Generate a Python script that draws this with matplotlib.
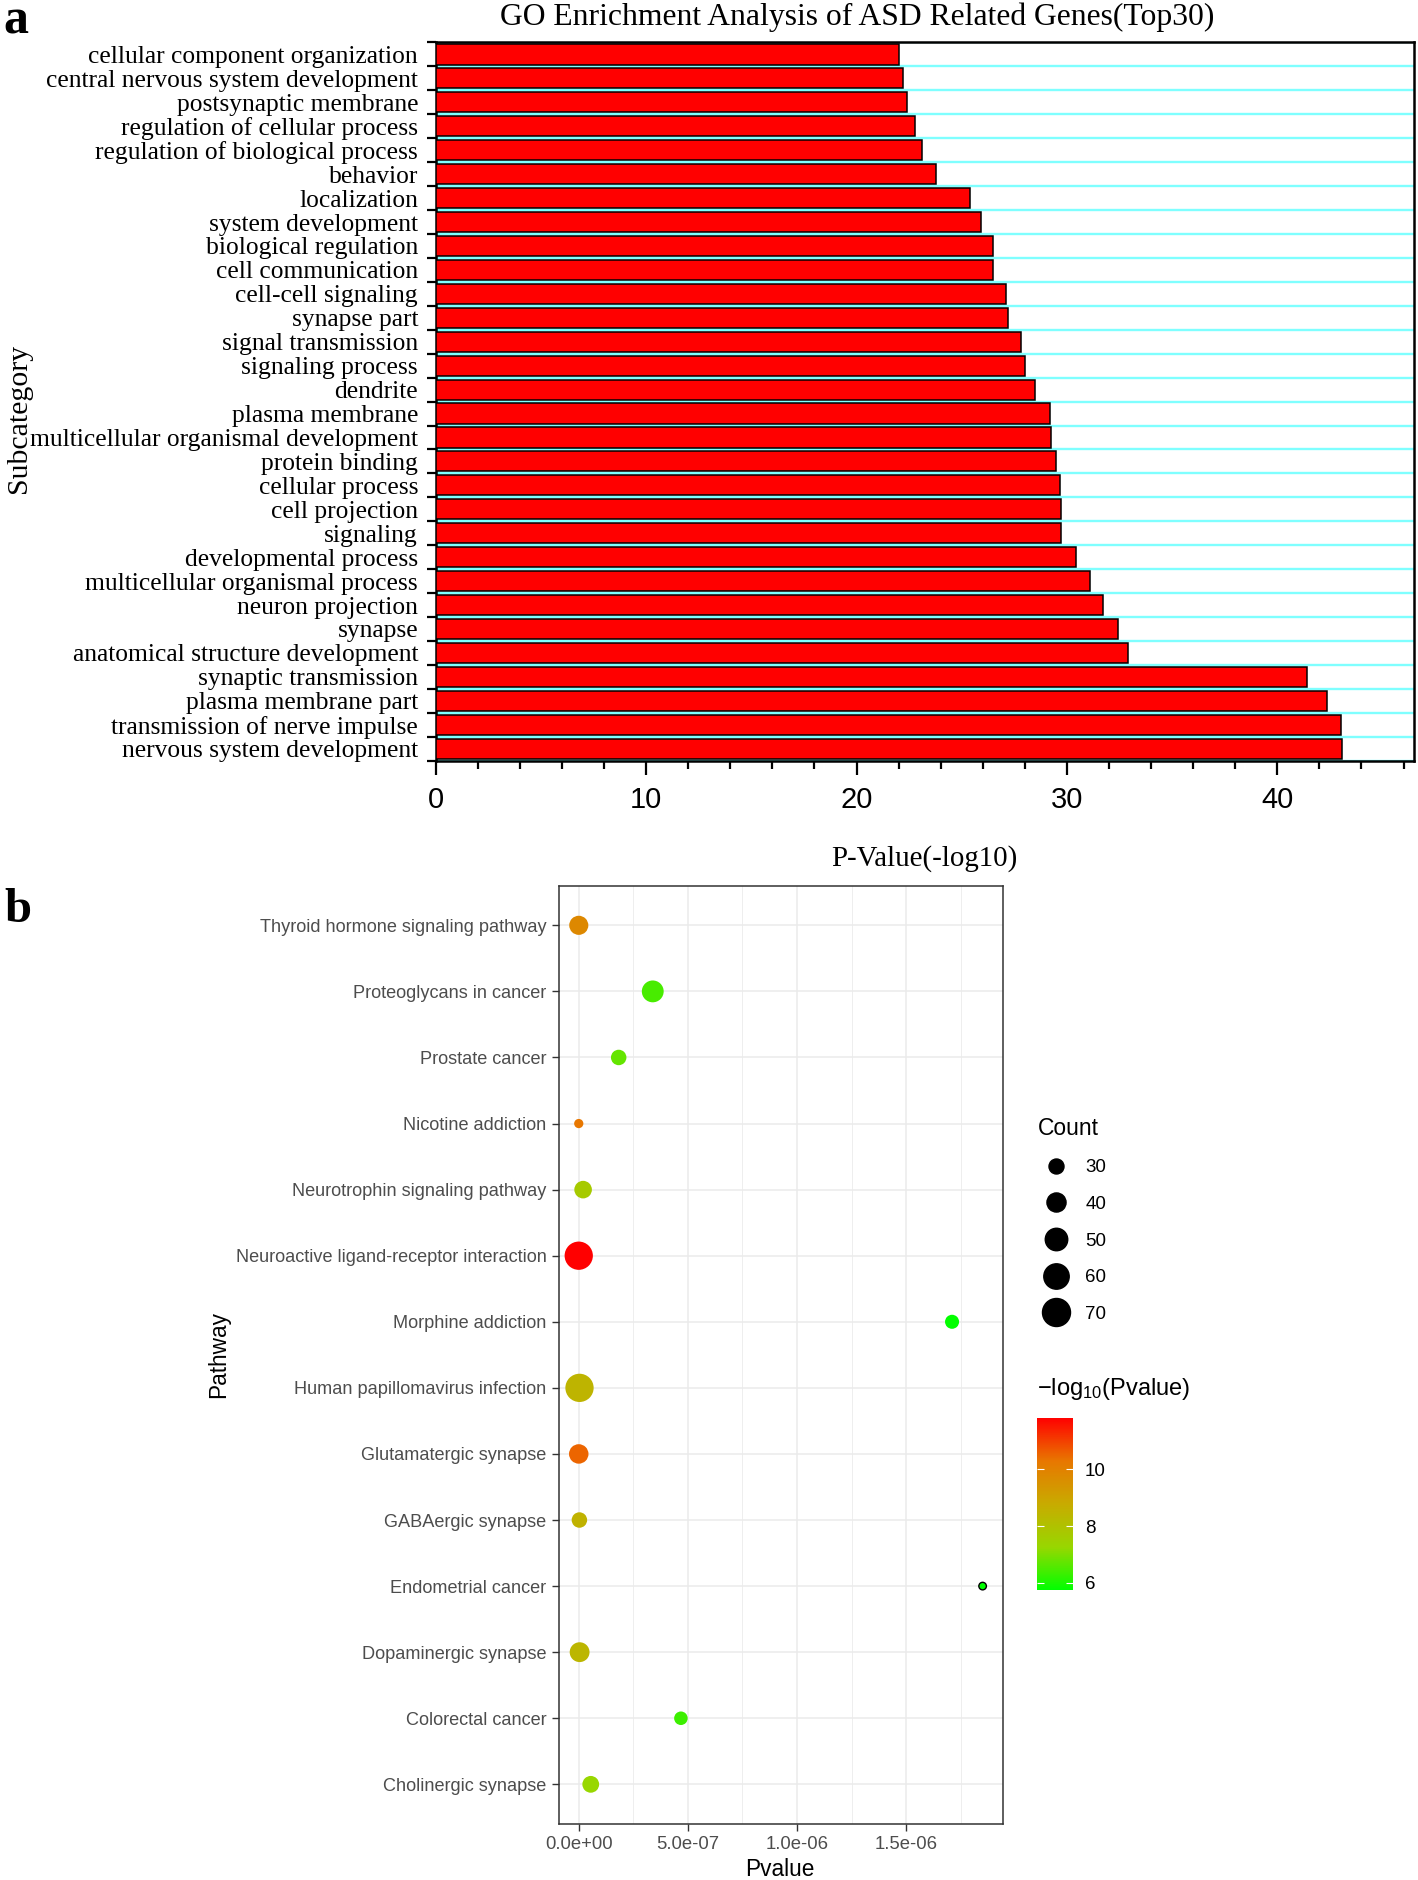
import numpy as np
import matplotlib
matplotlib.use("Agg")
import matplotlib.pyplot as plt
from matplotlib.colors import LinearSegmentedColormap, Normalize
from matplotlib.lines import Line2D

plt.rcParams['mathtext.default'] = 'regular'

# ---- panel a : GO terms, listed from top to bottom
go_terms = ["cellular component organization", "central nervous system development",
            "postsynaptic membrane", "regulation of cellular process",
            "regulation of biological process", "behavior", "localization",
            "system development", "biological regulation", "cell communication",
            "cell-cell signaling", "synapse part", "signal transmission",
            "signaling process", "dendrite", "plasma membrane",
            "multicellular organismal development", "protein binding",
            "cellular process", "cell projection", "signaling",
            "developmental process", "multicellular organismal process",
            "neuron projection", "synapse", "anatomical structure development",
            "synaptic transmission", "plasma membrane part",
            "transmission of nerve impulse", "nervous system development"]
go_values = [22.0, 22.2, 22.4, 22.8, 23.1, 23.8, 25.4, 25.9, 26.5, 26.5,
             27.1, 27.2, 27.8, 28.0, 28.5, 29.2, 29.25, 29.5, 29.65, 29.7,
             29.7, 30.45, 31.1, 31.7, 32.45, 32.9, 41.4, 42.35, 43.05, 43.1]
go_xticks = [0, 10, 20, 30, 40]

# ---- panel b : KEGG pathways, listed from top to bottom
pathways = ["Thyroid hormone signaling pathway", "Proteoglycans in cancer",
            "Prostate cancer", "Nicotine addiction", "Neurotrophin signaling pathway",
            "Neuroactive ligand-receptor interaction", "Morphine addiction",
            "Human papillomavirus infection", "Glutamatergic synapse",
            "GABAergic synapse", "Endometrial cancer", "Dopaminergic synapse",
            "Colorectal cancer", "Cholinergic synapse"]
pvalues = [1.6e-10, 3.39e-7, 1.83e-7, 5e-11, 2e-8,
           1.5e-12, 1.71e-6, 3.5e-9, 3e-11,
           3e-9, 1.85e-6, 4e-9,
           4.68e-7, 5.5e-8]
counts = [40, 48, 31, 20, 36,
          71, 28, 71, 41,
          31, 18, 42,
          27, 34]
point_edges = ['none'] * 10 + ['black'] + ['none'] * 3
count_breaks = [30, 40, 50, 60, 70]
color_ticks = [6, 8, 10]
p_ticks = [0, 5e-7, 1e-6, 1.5e-6]

SERIF = 'Liberation Serif'
SANS = 'Liberation Sans'
GREY30 = '#4d4d4d'


def count_to_size(c):
    # area of the dot grows linearly with the count
    return 7.26 * np.asarray(c, dtype=float) - 101


fig = plt.figure(figsize=(14.18, 18.8), dpi=100)

# ================= a =================
ax_go = fig.add_axes([0.3073, 0.5954, 0.6899, 0.3820])
y = np.arange(len(go_terms))
ax_go.barh(y, go_values, height=0.84, color='#ff0000', edgecolor='black',
           linewidth=1.1, zorder=3)
ax_go.set_ylim(len(go_terms) - 0.5, -0.5)
ax_go.set_xlim(0, 46.5)

ax_go.set_yticks(y)
ax_go.set_yticklabels(go_terms, fontfamily=SERIF, fontsize=18.4)
ax_go.set_yticks(np.arange(len(go_terms) + 1) - 0.5, minor=True)
ax_go.tick_params(axis='y', which='major', length=0, pad=12.7)
ax_go.tick_params(axis='y', which='minor', length=6.5, width=1.6, direction='out')
ax_go.grid(axis='y', which='minor', color='#7fffff', linewidth=1.7)
ax_go.set_axisbelow(True)

ax_go.set_xticks(go_xticks)
ax_go.set_xticks(np.arange(0, 47, 2), minor=True)
ax_go.tick_params(axis='x', which='major', length=10, width=1.6, pad=8.4)
ax_go.tick_params(axis='x', which='minor', length=5.8, width=1.6)
for lbl in ax_go.get_xticklabels():
    lbl.set_fontfamily(['Liberation Sans Narrow', SANS])
    lbl.set_fontsize(21)

for sp in ax_go.spines.values():
    sp.set_linewidth(1.8)
    sp.set_color('black')

ax_go.set_xlabel("P-Value(-log10)", fontfamily=SERIF, fontsize=20.8, va='top')
ax_go.xaxis.set_label_coords(0.499, -0.1175)
ax_go.set_ylabel("Subcategory", fontfamily=SERIF, fontsize=21.5)
ax_go.yaxis.set_label_coords(-0.4127, 0.476)

fig.text(857 / 1418, 1 - 17 / 1880, "GO Enrichment Analysis of ASD Related Genes(Top30)",
         ha='center', va='center', fontfamily=SERIF, fontsize=22.8)
fig.text(16 / 1418, 1 - 21 / 1880, "a", ha='center', va='center',
         fontfamily=SERIF, fontsize=36, fontweight='bold')

# ================= b =================
ax_kegg = fig.add_axes([0.3939, 0.0298, 0.3133, 0.4991])
pv = np.array(pvalues)
logp = -np.log10(pv)
cmap = LinearSegmentedColormap.from_list(
    'green_red', ['#00ff00', '#98d700', '#c8ab00', '#e87700', '#ff0000'])
norm = Normalize(vmin=logp.min(), vmax=logp.max())
yk = np.arange(len(pathways))
sc = ax_kegg.scatter(pv, yk, s=count_to_size(counts), c=logp, cmap=cmap, norm=norm,
                     edgecolors=point_edges, linewidths=1.0, zorder=3)

span = pv.max() - pv.min()
ax_kegg.set_xlim(pv.min() - 0.05 * span, pv.max() + 0.05 * span)
ax_kegg.set_ylim(len(pathways) - 1 + 0.6, -0.6)

ax_kegg.set_yticks(yk)
ax_kegg.set_yticklabels(pathways, fontfamily=SANS, fontsize=13.1, color=GREY30)
ax_kegg.set_xticks(p_ticks)
ax_kegg.set_xticklabels(["{:.1e}".format(t) for t in p_ticks],
                        fontfamily=SANS, fontsize=13.3, color=GREY30)
ax_kegg.set_xticks([(a + b) / 2 for a, b in zip(p_ticks[:-1], p_ticks[1:])]
                   + [p_ticks[-1] + (p_ticks[1] - p_ticks[0]) / 2], minor=True)
ax_kegg.tick_params(which='major', length=5, width=1.0, color='#333333', pad=3.6)
ax_kegg.tick_params(which='minor', length=0)
ax_kegg.grid(which='major', color='#ebebeb', linewidth=1.1)
ax_kegg.grid(axis='x', which='minor', color='#ebebeb', linewidth=0.6)
ax_kegg.set_axisbelow(True)
for sp in ax_kegg.spines.values():
    sp.set_linewidth(1.1)
    sp.set_color('#333333')

ax_kegg.set_xlabel("Pvalue", fontfamily=SANS, fontsize=16.3, va='top')
ax_kegg.xaxis.set_label_coords(0.4987, -0.0362)
ax_kegg.set_ylabel("Pathway", fontfamily=SANS, fontsize=16.3)
ax_kegg.yaxis.set_label_coords(-0.7395, 0.5)

fig.text(18 / 1418, 1 - 910 / 1880, "b", ha='center', va='center',
         fontfamily=SERIF, fontsize=35, fontweight='bold')

# colour bar
cax = fig.add_axes([0.7313, 0.154, 0.0254, 0.0919])
cb = fig.colorbar(sc, cax=cax, ticks=color_ticks)
cb.outline.set_visible(False)
cax.tick_params(left=True, right=True, direction='in', color='white', length=5,
                width=0.8, pad=8.6, labelsize=13.5)
for lbl in cax.get_yticklabels():
    lbl.set_fontfamily(SANS)
cax.set_title("\u2212log$_{10}$(Pvalue)", loc='left', pad=16,
              fontfamily=SANS, fontsize=17)

# size legend
handles = [Line2D([], [], ls='none', marker='o', color='black',
                  markersize=float(np.sqrt(count_to_size(c)))) for c in count_breaks]
fig.legend(handles, [str(c) for c in count_breaks], title="Count",
           loc='upper left', bbox_to_anchor=(0.732, 0.406), frameon=False,
           borderpad=0, borderaxespad=0, handlelength=1.9, handletextpad=0.62,
           labelspacing=1.04, alignment='left',
           prop={'family': SANS, 'size': 13.5},
           title_fontproperties={'family': SANS, 'size': 16.5})

fig.savefig("out.png", dpi=100)
